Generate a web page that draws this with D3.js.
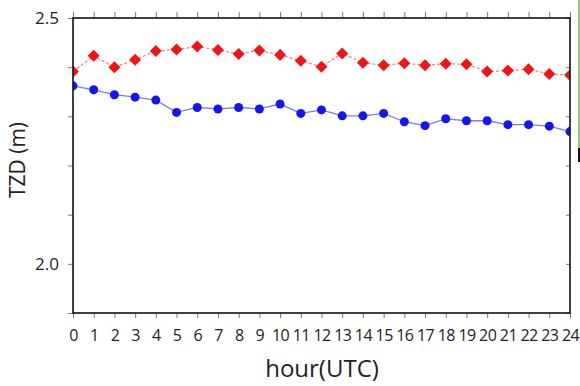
<!DOCTYPE html>
<html>
<head>
<meta charset="utf-8">
<script src="https://cdn.jsdelivr.net/npm/d3@7"></script>
<style>
html,body{margin:0;padding:0;background:#fff;}
svg{display:block;}
text{font-family:"Open Sans",sans-serif;fill:#222;}
</style>
</head>
<body>
<svg id="chart" width="580" height="386"></svg>
<script>
const hours = d3.range(0, 25);
const redValues = [2.391,2.423,2.400,2.415,2.433,2.436,2.442,2.435,2.427,2.434,2.425,2.413,2.401,2.428,2.409,2.404,2.408,2.404,2.407,2.406,2.391,2.393,2.396,2.386,2.384];
const blueValues = [2.362,2.354,2.344,2.339,2.333,2.308,2.318,2.315,2.318,2.315,2.325,2.306,2.313,2.301,2.301,2.306,2.289,2.281,2.295,2.291,2.291,2.283,2.283,2.280,2.269];
const yMajorTicks = [2.0, 2.5];
const yMinorTicks = [1.9, 2.0, 2.1, 2.2, 2.3, 2.4, 2.5];
const xTickLabels = hours.map(String);
const xTitle = "hour(UTC)";
const yTitle = "TZD (m)";

const svg = d3.select("#chart");
const L = 73, R = 570, T = 18, B = 313;
const x = d3.scaleLinear().domain([0, 24]).range([L, R]);
const y = d3.scaleLinear().domain([1.9, 2.5]).range([B, T]);

svg.append("defs").append("clipPath").attr("id","clip")
  .append("rect").attr("x",L).attr("y",T).attr("width",R-L).attr("height",B-T);

const g = svg.append("g").attr("clip-path","url(#clip)");

const redData = hours.map((h,i)=>({h, v: redValues[i]}));
const blueData = hours.map((h,i)=>({h, v: blueValues[i]}));
const line = d3.line().x(d=>x(d.h)).y(d=>y(d.v));

g.append("path").datum(blueData).attr("d", line)
  .attr("fill","none").attr("stroke","#7a7aff").attr("stroke-width",1.3);
g.append("path").datum(redData).attr("d", line)
  .attr("fill","none").attr("stroke","#ff7a7a").attr("stroke-width",1.2).attr("stroke-dasharray","3,2");

g.selectAll("circle.b").data(blueData).join("circle").attr("class","b")
  .attr("cx",d=>x(d.h)).attr("cy",d=>y(d.v)).attr("r",4.5).attr("fill","#1515ee");

const diamond = d3.symbol().type(d3.symbolDiamond2).size(92);
g.selectAll("path.r").data(redData).join("path").attr("class","r")
  .attr("d", diamond).attr("transform",d=>`translate(${x(d.h)},${y(d.v)})`).attr("fill","#f01515");

const axB = svg.append("g").attr("transform",`translate(0,${B})`)
  .call(d3.axisBottom(x).tickValues(hours).tickFormat((d,i)=>xTickLabels[i]).tickSize(5).tickPadding(12));
const axT = svg.append("g").attr("transform",`translate(0,${T})`)
  .call(d3.axisTop(x).tickValues(hours).tickFormat("").tickSize(6));
const axL = svg.append("g").attr("transform",`translate(${L},0)`)
  .call(d3.axisLeft(y).tickValues(yMinorTicks).tickFormat(d=>yMajorTicks.includes(d)?d.toFixed(1):"").tickSize(5).tickPadding(9));
const axR = svg.append("g").attr("transform",`translate(${R},0)`)
  .call(d3.axisRight(y).tickValues(yMinorTicks).tickFormat("").tickSize(-4));

[axB,axT,axL,axR].forEach(a=>{
  a.select(".domain").remove();
  a.selectAll(".tick line").attr("stroke","#555").attr("stroke-width",0.8);
});
axB.selectAll("text").attr("font-size",16).attr("fill","#333").attr("letter-spacing","-0.6px")
  .style("font-family","'Open Sans',sans-serif");
axL.selectAll("text").attr("font-size",17).attr("fill","#333").style("font-family","'Open Sans',sans-serif");

svg.append("rect").attr("x",L).attr("y",T).attr("width",R-L).attr("height",B-T)
  .attr("fill","none").attr("stroke","#111").attr("stroke-width",1.6);

svg.append("text").attr("x",322).attr("y",377).attr("text-anchor","middle")
  .attr("font-size",24).attr("fill","#222").text(xTitle);
svg.append("text").attr("transform",`translate(25,160) rotate(-90)`).attr("text-anchor","middle")
  .attr("font-size",21).attr("fill","#222").text(yTitle);

svg.append("rect").attr("x",578).attr("y",0).attr("width",2).attr("height",148).attr("fill","#9cc07a");
svg.append("rect").attr("x",578).attr("y",148).attr("width",2).attr("height",14).attr("fill","#111");
</script>
</body>
</html>
